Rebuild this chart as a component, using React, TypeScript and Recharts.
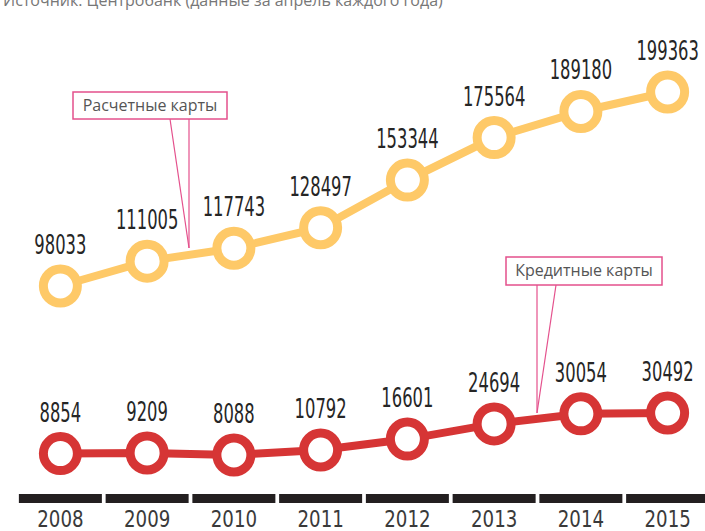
import React from 'react';
import { LineChart, Line, XAxis, YAxis, LabelList } from 'recharts';

const years = ['2008', '2009', '2010', '2011', '2012', '2013', '2014', '2015'];
const settlementCards = [98033, 111005, 117743, 128497, 153344, 175564, 189180, 199363];
const creditCards = [8854, 9209, 8088, 10792, 16601, 24694, 30054, 30492];

const settlementDomain: [number, number] = [-8524, 236971];
const creditDomain: [number, number] = [-10560, 240107];

const data = years.map((year, i) => ({
  year,
  settlement: settlementCards[i],
  credit: creditCards[i],
}));

const YELLOW = '#fec968';
const RED = '#d63535';
const PINK = '#e4508c';
const NARROW = "'Liberation Sans Narrow', 'DejaVu Sans Condensed', sans-serif";

const ValueLabel = (props: any) => {
  const { x, y, value } = props;
  return (
    <text
      transform={`translate(${x},${y - 32}) scale(0.7,1)`}
      textAnchor="middle"
      fontFamily={NARROW}
      fontSize={26}
      fill="#262626"
    >
      {value}
    </text>
  );
};

const YearTick = (props: any) => {
  const { x, y, payload } = props;
  return (
    <g>
      <rect x={x - 41.5} y={y + 4} width={83} height={9} fill="#231f20" />
      <text
        transform={`translate(${x},${y + 37}) scale(0.88,1)`}
        textAnchor="middle"
        fontFamily={NARROW}
        fontSize={23}
        fill="#3a3a3a"
      >
        {payload.value}
      </text>
    </g>
  );
};

const Callout = ({ x, y, w, h, text, p1, p2, tip }: any) => (
  <g>
    <line x1={p1} y1={y + h} x2={tip[0]} y2={tip[1]} stroke={PINK} strokeWidth={1.2} />
    <line x1={p2} y1={y + h} x2={tip[0]} y2={tip[1]} stroke={PINK} strokeWidth={1.2} />
    <rect x={x} y={y} width={w} height={h} fill="#fff" stroke={PINK} strokeWidth={1.5} />
    <text
      x={x + w / 2}
      y={y + h / 2 + 5}
      textAnchor="middle"
      fontFamily="'Open Sans', 'Noto Sans', sans-serif"
      fontSize={16}
      fill="#555"
    >
      {text}
    </text>
  </g>
);

export default function App() {
  return (
    <div
      style={{
        position: 'absolute',
        left: 0,
        top: 0,
        width: 705,
        height: 531,
        overflow: 'hidden',
        background: '#fff',
      }}
    >
      <LineChart
        width={720}
        height={531}
        data={data}
        margin={{ top: 20, right: 9, bottom: 0, left: 17 }}
      >
        <XAxis
          dataKey="year"
          scale="band"
          axisLine={false}
          tickLine={false}
          tickSize={0}
          tickMargin={0}
          height={41}
          interval={0}
          tick={<YearTick />}
        />
        <YAxis yAxisId="s" hide domain={settlementDomain} allowDataOverflow />
        <YAxis yAxisId="c" hide orientation="right" domain={creditDomain} allowDataOverflow />
        <Line
          yAxisId="s"
          dataKey="settlement"
          stroke={YELLOW}
          strokeWidth={8}
          dot={{ r: 17, strokeWidth: 9, fill: '#fff', stroke: YELLOW }}
          activeDot={false}
          isAnimationActive={false}
        >
          <LabelList dataKey="settlement" content={<ValueLabel />} />
        </Line>
        <Line
          yAxisId="c"
          dataKey="credit"
          stroke={RED}
          strokeWidth={8}
          dot={{ r: 17, strokeWidth: 9, fill: '#fff', stroke: RED }}
          activeDot={false}
          isAnimationActive={false}
        >
          <LabelList dataKey="credit" content={<ValueLabel />} />
        </Line>
      </LineChart>
      <svg
        width={705}
        height={531}
        style={{ position: 'absolute', left: 0, top: 0, pointerEvents: 'none' }}
      >
        <text x={3} y={6} fontFamily="'Open Sans', 'Noto Sans', sans-serif" fontSize={16} fill="#777">
          Источник: Центробанк (данные за апрель каждого года)
        </text>
        <Callout x={73} y={92} w={154} h={27} text="Расчетные карты" p1={170} p2={189} tip={[189, 248]} />
        <Callout x={506} y={257} w={156} h={28} text="Кредитные карты" p1={537} p2={556} tip={[537, 413]} />
      </svg>
    </div>
  );
}
